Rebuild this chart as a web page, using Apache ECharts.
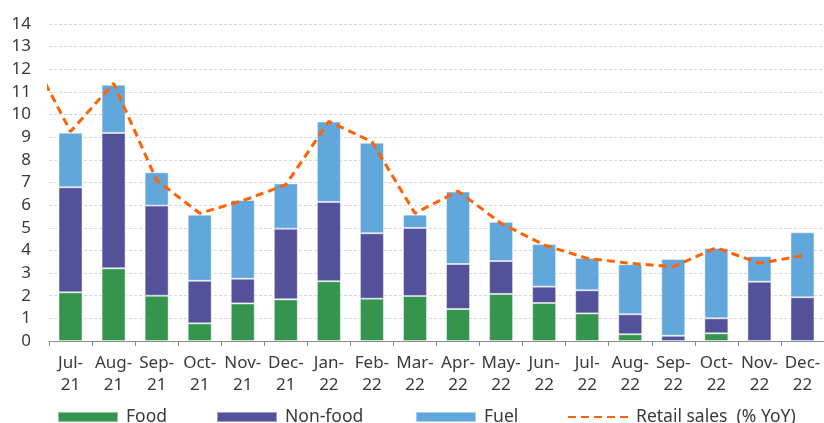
<!DOCTYPE html>
<html>
	<head>
		<meta charset="utf-8">
		<title>Retail sales</title>
		<script src="https://cdn.jsdelivr.net/npm/echarts@6/dist/echarts.min.js"></script>
		<style>
			html, body { margin: 0; padding: 0; background: #fff; }
			#chart { width: 824px; height: 423px; }
		</style>
	</head>
	<body>
		<div id="chart"></div>
		<script>
			// months on the x axis (two-line labels)
			var categories = ['Jul-\n21', 'Aug-\n21', 'Sep-\n21', 'Oct-\n21', 'Nov-\n21', 'Dec-\n21',
				'Jan-\n22', 'Feb-\n22', 'Mar-\n22', 'Apr-\n22', 'May-\n22', 'Jun-\n22',
				'Jul-\n22', 'Aug-\n22', 'Sep-\n22', 'Oct-\n22', 'Nov-\n22', 'Dec-\n22'];
			// contributions (pp)
			var food    = [2.15, 3.21, 2.00, 0.78, 1.66, 1.84, 2.64, 1.87, 1.99, 1.41, 2.08, 1.68, 1.22, 0.30, -0.05, 0.34, -0.05, -0.05];
			var nonFood = [4.64, 5.98, 3.98, 1.88, 1.09, 3.12, 3.50, 2.89, 3.00, 1.99, 1.45, 0.72, 1.02, 0.88, 0.23, 0.66, 2.62, 1.93];
			var fuel    = [2.41, 2.13, 1.47, 2.92, 3.48, 2.00, 3.55, 4.00, 0.59, 3.20, 1.73, 1.88, 1.43, 2.21, 3.39, 3.11, 1.13, 2.87];
			// retail sales % YoY, plus the month before the window (only its slope shows)
			var retailPrev = 12.9;
			var retailSales = [9.25, 11.38, 7.1, 5.64, 6.2, 6.9, 9.7, 8.8, 5.64, 6.62, 5.2, 4.24, 3.65, 3.43, 3.28, 4.12, 3.43, 3.77];
			var yTicks = { min: 0, max: 14, step: 1 };
			var legendNames = ['Food', 'Non-food', 'Fuel', 'Retail sales  (% YoY)'];

			var lineData = [[-0.5, retailPrev]];
			for (var i = 0; i < retailSales.length; i++) {
				lineData.push([i + 0.5, retailSales[i]]);
			}

			var txt = '#3a3a3a';
			var fontName = 'Noto Sans';
			var barBorder = { borderColor: 'rgba(255,255,255,0.45)', borderWidth: 1 };

			// one legend per item so each sits where it does in the original
			var legendLeft = [57, 216, 415, 567];
			var legends = legendNames.map(function (n, k) {
				var item = { name: n, icon: 'rect' };
				if (k === 3) {
					item = { name: n, itemStyle: { opacity: 0 } };
				}
				return {
					left: legendLeft[k],
					bottom: -3,
					padding: 0,
					itemWidth: 60,
					itemHeight: 10,
					textStyle: { fontSize: 17.5, color: txt, fontFamily: fontName, padding: [0, 0, 0, 3] },
					data: [item]
				};
			});

			var myChart = echarts.init(document.getElementById('chart'));
			var option = {
				animation: false,
				textStyle: { fontFamily: fontName },
				grid: { left: 49, right: -3, top: 24, bottom: 82, containLabel: false },
				legend: legends,
				xAxis: [
					{
						type: 'category',
						data: categories,
						boundaryGap: true,
						axisLine: { lineStyle: { color: '#8c8c8c', width: 1 } },
						axisTick: { show: true, length: 5, lineStyle: { color: '#8c8c8c' } },
						axisLabel: { fontSize: 17, color: txt, lineHeight: 22, margin: 11, interval: 0 },
						splitLine: { show: false }
					},
					{
						type: 'value',
						min: 0,
						max: categories.length,
						show: false
					}
				],
				yAxis: {
					type: 'value',
					min: yTicks.min,
					max: yTicks.max,
					interval: yTicks.step,
					axisLine: { show: false },
					axisTick: { show: false },
					axisLabel: { fontSize: 17, color: txt, margin: 18 },
					splitLine: { lineStyle: { color: '#d9d9d9', type: [3, 2], width: 1 } }
				},
				series: [
					{
						name: 'Food', type: 'bar', stack: 'c', barWidth: 24,
						itemStyle: Object.assign({ color: '#35954f' }, barBorder),
						data: food
					},
					{
						name: 'Non-food', type: 'bar', stack: 'c', barWidth: 24,
						itemStyle: Object.assign({ color: '#535199' }, barBorder),
						data: nonFood
					},
					{
						name: 'Fuel', type: 'bar', stack: 'c', barWidth: 24,
						itemStyle: Object.assign({ color: '#61a7db' }, barBorder),
						data: fuel
					},
					{
						name: 'Retail sales  (% YoY)', type: 'line', xAxisIndex: 1,
						symbol: 'none', clip: true, z: 5,
						lineStyle: { color: '#ff6200', width: 3, type: [8, 5] },
						itemStyle: { color: '#ff6200' },
						data: lineData
					}
				]
			};
			myChart.setOption(option);
		</script>
	</body>
</html>
